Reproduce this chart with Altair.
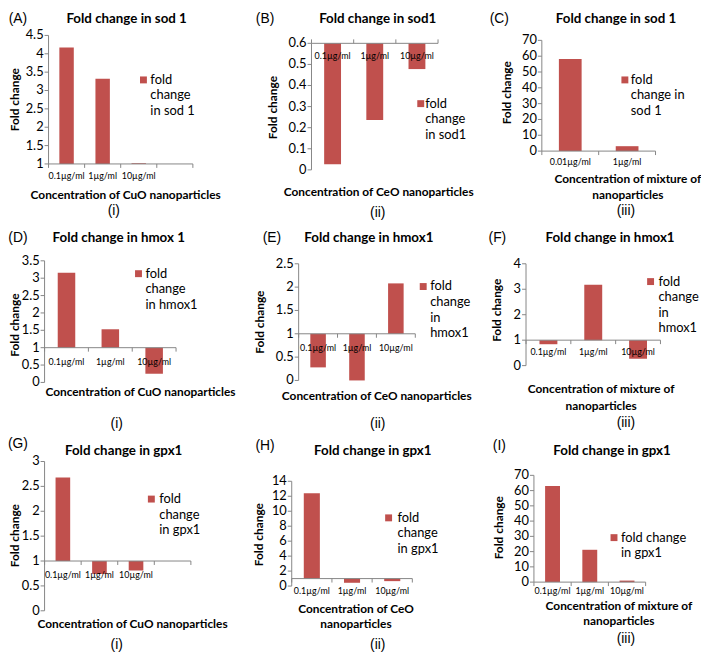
import altair as alt
import pandas as pd

RED = "#C0504D"
AXIS = "#868686"
FONT = "Lato"
LFONT = "Liberation Sans"

# ---- data ----
CUO_CATS = ["0.1\u00b5g/ml", "1\u00b5g/ml", "10\u00b5g/ml"]
CEO_CATS = ["0.1\u00b5g/ml", "1\u00b5g/ml", "10\u00b5g/ml"]
MIX_CATS_SOD = ["0.01\u00b5g/ml", "1\u00b5g/ml"]
MIX_CATS = ["0.1\u00b5g/ml", "1\u00b5g/ml", "10\u00b5g/ml"]

SOD1_CUO = [4.17, 3.32, 1.02]
SOD1_CEO = [0.027, 0.236, 0.478]
SOD1_MIX = [58.3, 3.1]
HMOX1_CUO = [3.16, 1.53, 0.25]
HMOX1_CEO = [0.28, 0.0, 2.08]
HMOX1_MIX = [0.84, 3.18, 0.27]
GPX1_CUO = [2.68, 0.74, 0.81]
GPX1_CEO = [12.4, 0.44, 0.66]
GPX1_MIX = [63.0, 21.2, 1.0]

TICKS_A = [1, 1.5, 2, 2.5, 3, 3.5, 4, 4.5]
TICKS_B = [0, 0.1, 0.2, 0.3, 0.4, 0.5, 0.6]
TICKS_C = [0, 10, 20, 30, 40, 50, 60, 70]
TICKS_D = [0, 0.5, 1, 1.5, 2, 2.5, 3, 3.5]
TICKS_E = [0, 0.5, 1, 1.5, 2, 2.5]
TICKS_F = [0, 1, 2, 3, 4]
TICKS_G = [0, 0.5, 1, 1.5, 2, 2.5, 3]
TICKS_H = [0, 2, 4, 6, 8, 10, 12, 14]
TICKS_I = [0, 10, 20, 30, 40, 50, 60, 70]

CUO_TITLE = ["Concentration of CuO nanoparticles"]
CEO_TITLE = ["Concentration of CeO nanoparticles"]
MIX_TITLE = ["Concentration of mixture of", "nanoparticles"]

PANELS = [
    dict(label="(A)", title="Fold change in sod 1", cats=CUO_CATS, vals=SOD1_CUO, ticks=TICKS_A,
         base=1, ymin=1, ymax=4.5, n=4, x0=41, x1=187, ytop=24, ybot=154, up=False,
         lab=(0, 7), tit=(120, 7), yt=(7, 89), xtl=166, xt=CUO_TITLE, xtp=(119, 185), xlh=16,
         sub="(i)", subp=(107, 202), sq=(137, 69), lt=144, leg=["fold", "change", "in sod 1"]),
    dict(label="(B)", title="Fold change in sod1", cats=CEO_CATS, vals=SOD1_CEO, ticks=TICKS_B,
         base=0.6, ymin=0, ymax=0.6, n=3, x0=307, x1=435, ytop=32, ybot=160, up=True,
         lab=(250, 7), tit=(374, 7), yt=(268, 97), xtl=45, xt=CEO_TITLE, xtp=(375, 182), xlh=16,
         sub="(ii)", subp=(374, 204), sq=(417.5, 93), lt=422, leg=["fold", "change", "in sod1"]),
    dict(label="(C)", title="Fold change in sod 1", cats=MIX_CATS_SOD, vals=SOD1_MIX, ticks=TICKS_C,
         base=0, ymin=0, ymax=70, n=2, x0=540, x1=655, ytop=29, ybot=141, up=False,
         lab=(487, 7), tit=(615, 7), yt=(505, 82), xtl=152, xt=MIX_TITLE, xtp=(627, 169), xlh=16,
         sub="(iii)", subp=(625, 202), sq=(624, 69), lt=630, leg=["fold", "change in", "sod 1"]),
    dict(label="(D)", title="Fold change in hmox 1", cats=CUO_CATS, vals=HMOX1_CUO, ticks=TICKS_D,
         base=1, ymin=0, ymax=3.5, n=3, x0=37, x1=170, ytop=252, ybot=375, up=False,
         lab=(0, 229), tit=(112, 229), yt=(7, 317), xtl=354, xt=CUO_TITLE, xtp=(134, 385), xlh=16,
         sub="(i)", subp=(110, 417), sq=(132, 265), lt=139, leg=["fold", "change", "in hmox1"]),
    dict(label="(E)", title="Fold change in hmox1", cats=CEO_CATS, vals=HMOX1_CEO, ticks=TICKS_E,
         base=1, ymin=0, ymax=2.5, n=3, x0=294, x1=412, ytop=255, ybot=373, up=False,
         lab=(257, 229), tit=(365, 229), yt=(255, 314), xtl=340, xt=CEO_TITLE, xtp=(373, 389), xlh=16,
         sub="(ii)", subp=(374, 417), sq=(420, 278), lt=427, leg=["fold", "change", "in", "hmox1"]),
    dict(label="(F)", title="Fold change in hmox1", cats=MIX_CATS, vals=HMOX1_MIX, ticks=TICKS_F,
         base=1, ymin=0, ymax=4, n=3, x0=524, x1=660, ytop=255, ybot=358, up=False,
         lab=(485, 229), tit=(609, 229), yt=(495, 302), xtl=344, xt=MIX_TITLE, xtp=(600, 382), xlh=17,
         sub="(iii)", subp=(625, 416), sq=(650, 273), lt=658, leg=["fold", "change", "in", "hmox1"]),
    dict(label="(G)", title="Fold change in gpx1", cats=CUO_CATS, vals=GPX1_CUO, ticks=TICKS_G,
         base=1, ymin=0, ymax=3, n=4, x0=37, x1=185, ytop=455, ybot=606, up=False,
         lab=(0, 437), tit=(117, 444), yt=(7, 530), xtl=570, xt=CUO_TITLE, xtp=(126, 619), xlh=16,
         sub="(i)", subp=(110, 641), sq=(145, 493), lt=153, leg=["fold", "change", "in gpx1"]),
    dict(label="(H)", title="Fold change in gpx1", cats=CEO_CATS, vals=GPX1_CEO, ticks=TICKS_H,
         base=1, ymin=0, ymax=14, n=3, x0=287, x1=409, ytop=475, ybot=581, up=False,
         lab=(250, 439), tit=(369, 444), yt=(254, 529), xtl=586, xt=["Concentration of CeO", "nanoparticles"],
         xtp=(352, 604), xlh=15, sub="(ii)", subp=(374, 641), sq=(385, 512), lt=394,
         leg=["fold", "change", "in gpx1"]),
    dict(label="(I)", title="Fold change in gpx1", cats=MIX_CATS, vals=GPX1_MIX, ticks=TICKS_I,
         base=0, ymin=0, ymax=70, n=3, x0=532, x1=645, ytop=469, ybot=577, up=False,
         lab=(487, 439), tit=(611, 444), yt=(497, 522), xtl=586, xt=MIX_TITLE, xtp=(618, 601), xlh=15,
         sub="(iii)", subp=(625, 635), sq=(613, 532), lt=620, leg=["fold change", "in gpx1"]),
]

ONE = pd.DataFrame({"k": [0]})
LEG_LH = 15.7


def txt(text, x, y, size, bold=False, align="center", font=FONT, angle=None, lh=None):
    kw = dict(fontSize=size, font=font, align=align, baseline="middle", color="black")
    if bold:
        kw["fontWeight"] = "bold"
    if angle is not None:
        kw["angle"] = angle
    if lh is not None:
        kw["lineHeight"] = lh
    return alt.Chart(ONE).mark_text(**kw).encode(
        x=alt.value(x), y=alt.value(y), text=alt.value(text))


def panel(p):
    layers = []
    cats = p["cats"]
    domain = list(cats) + [" " * (i + 1) for i in range(p["n"] - len(cats))]
    xs = alt.Scale(domain=domain, range=[p["x0"], p["x1"]], paddingInner=0.6, paddingOuter=0.3)
    ys = alt.Scale(domain=[p["ymin"], p["ymax"]], range=[p["ybot"], p["ytop"]], nice=False, zero=False)
    df = pd.DataFrame({"c": cats, "v": p["vals"], "b": [p["base"]] * len(cats)})
    base_px = p["ybot"] + (p["base"] - p["ymin"]) / (p["ymax"] - p["ymin"]) * (p["ytop"] - p["ybot"])

    # bars
    layers.append(alt.Chart(df).mark_bar(color=RED).encode(
        x=alt.X("c:N", scale=xs, axis=None),
        y=alt.Y("v:Q", scale=ys, axis=None),
        y2="b:Q"))
    # y axis line
    layers.append(alt.Chart(ONE).mark_rule(color=AXIS, strokeWidth=1).encode(
        x=alt.value(p["x0"]), y=alt.value(p["ytop"]), y2=alt.value(p["ybot"])))
    # y ticks + labels
    tdf = pd.DataFrame({"t": p["ticks"]})
    layers.append(alt.Chart(tdf).mark_rule(color=AXIS).encode(
        y=alt.Y("t:Q", scale=ys, axis=None), x=alt.value(p["x0"] - 4), x2=alt.value(p["x0"])))
    layers.append(alt.Chart(tdf).mark_text(font=FONT, fontSize=13, align="right", baseline="middle",
                                          color="black").encode(
        y=alt.Y("t:Q", scale=ys, axis=None), x=alt.value(p["x0"] - 5),
        text=alt.Text("t:Q", format="~g")))
    # x axis line at the crossing value
    layers.append(alt.Chart(ONE).mark_rule(color=AXIS).encode(
        x=alt.value(p["x0"]), x2=alt.value(p["x1"]), y=alt.value(base_px)))
    # x ticks at slot boundaries
    kdf = pd.DataFrame({"k": list(range(p["n"] + 1))})
    d = -4 if p["up"] else 4
    layers.append(alt.Chart(kdf).mark_rule(color=AXIS).encode(
        x=alt.X("k:Q", scale=alt.Scale(domain=[0, p["n"]], range=[p["x0"], p["x1"]]), axis=None),
        y=alt.value(base_px), y2=alt.value(base_px + d)))
    # x tick labels
    layers.append(alt.Chart(df).mark_text(font=FONT, fontSize=9, baseline="middle",
                                        color="black").encode(
        x=alt.X("c:N", scale=xs, axis=None), y=alt.value(p["xtl"]), text="c:N"))
    # legend
    layers.append(alt.Chart(ONE).mark_square(color=RED, opacity=1, size=49).encode(
        x=alt.value(p["sq"][0]), y=alt.value(p["sq"][1])))
    layers.append(txt(p["leg"], p["lt"], p["sq"][1], 13, align="left", lh=LEG_LH))
    # titles and labels
    layers.append(txt(p["title"], p["tit"][0], p["tit"][1], 13.5, bold=True))
    layers.append(txt(p["label"], p["lab"][0] + 10, p["lab"][1], 14, font=LFONT))
    layers.append(txt("Fold change", p["yt"][0], p["yt"][1], 12, bold=True, angle=270))
    layers.append(txt(p["xt"], p["xtp"][0], p["xtp"][1], 12, bold=True, lh=p["xlh"]))
    layers.append(txt(p["sub"], p["subp"][0], p["subp"][1], 14, font=LFONT))
    return layers


all_layers = []
for p in PANELS:
    all_layers.extend(panel(p))

chart = alt.layer(*all_layers).resolve_scale(
    x="independent", y="independent"
).properties(
    width=701, height=649, padding=0,
    autosize=alt.AutoSizeParams(type="none"),
    background="white",
).configure_view(stroke=None)

chart.save("out.html", embed_options={"renderer": "svg", "actions": False})
